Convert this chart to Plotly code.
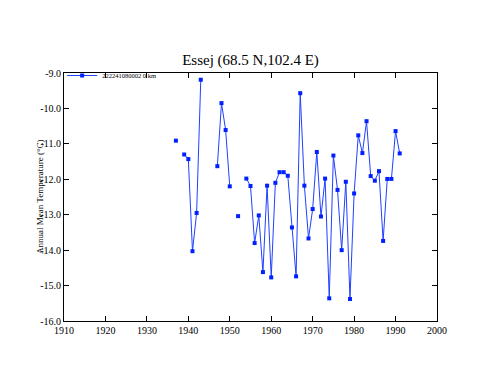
import plotly.graph_objects as go

years = list(range(1937, 1992))
temps = [-10.91, None, -11.30, -11.43, -14.03, -12.95, -9.19, None, None, None,
         -11.63, -9.85, -10.61, -12.20, None, -13.04, None, -11.98, -12.19, -13.80,
         -13.02, -14.62, -12.18, -14.77, -12.10, -11.80, -11.80, -11.90, -13.36, -14.74,
         -9.57, -12.18, -13.67, -12.84, -11.23, -13.05, -11.98, -15.36, -11.33, -12.30,
         -14.00, -12.07, -15.38, -12.40, -10.76, -11.26, -10.36, -11.91, -12.04, -11.77,
         -13.74, -11.99, -11.99, -10.64, -11.27]
series_name = "222241080002 0 km"
title = "Essej (68.5 N,102.4 E)"
y_title = "Annual Mean Temperature (°C)"
x_ticks = list(range(1910, 2001, 10))
y_ticks = [-9.0, -10.0, -11.0, -12.0, -13.0, -14.0, -15.0, -16.0]

fig = go.Figure()
fig.add_trace(go.Scatter(
    x=years, y=temps, mode="lines+markers", name=series_name,
    connectgaps=False,
    line=dict(color="#2040ff", width=1),
    marker=dict(symbol="square", size=4, color="#0020ff"),
))

font = "Liberation Serif, Times New Roman, serif"
fig.update_layout(
    width=500, height=386,
    margin=dict(l=56, r=71, t=65, b=73),
    paper_bgcolor="white", plot_bgcolor="white",
    font=dict(family=font, color="black", size=10),
    title=dict(text=title, x=(56 + 429) / 2 / 500, xanchor="center", y=1 - 52 / 386,
               yanchor="middle", font=dict(size=15, family=font)),
    showlegend=True,
    legend=dict(x=-0.005, y=0.99, xanchor="left", yanchor="middle", bgcolor="rgba(0,0,0,0)",
                font=dict(size=6.5, family=font), itemwidth=30, borderwidth=0,
                tracegroupgap=0),
    xaxis=dict(range=[1910, 2000], tickvals=x_ticks, ticktext=[str(v) for v in x_ticks],
               ticks="inside", ticklen=5, tickcolor="black", showline=True, linecolor="black",
               linewidth=1, mirror="ticks", showgrid=False, zeroline=False,
               tickfont=dict(size=10, family=font)),
    yaxis=dict(range=[-16, -9], tickvals=y_ticks, ticktext=["%.1f" % v for v in y_ticks],
               ticks="inside", ticklen=5, tickcolor="black", showline=True, linecolor="black",
               linewidth=1, mirror="ticks", showgrid=False, zeroline=False,
               tickfont=dict(size=10, family=font)),
    annotations=[dict(text=y_title, textangle=-90, xref="paper", yref="paper",
                      x=-24 / 373, y=0.5, xanchor="center", yanchor="middle",
                      showarrow=False, font=dict(size=9, family=font))],
)
fig.write_html("out.html")
